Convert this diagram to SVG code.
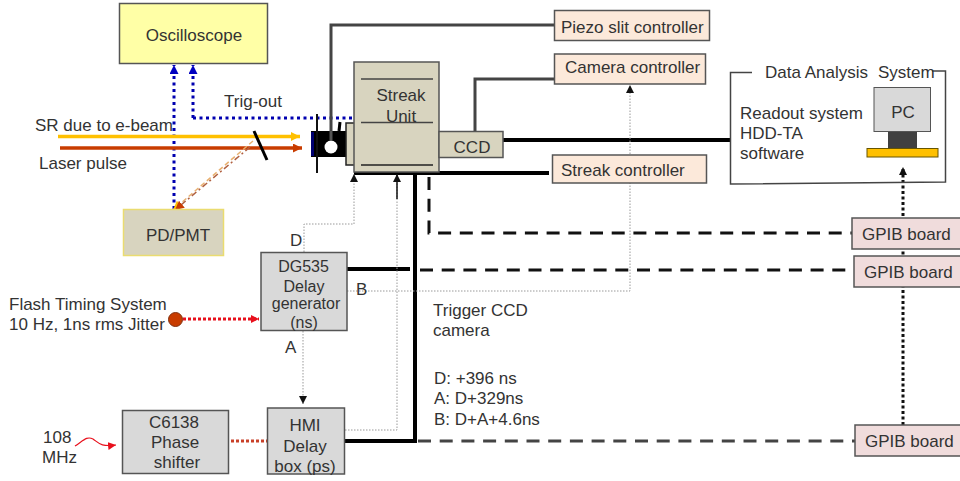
<svg xmlns="http://www.w3.org/2000/svg" width="960" height="481" viewBox="0 0 960 481">
<defs>
<marker id="blue" markerUnits="userSpaceOnUse" markerWidth="10" markerHeight="10" refX="9" refY="4.500" orient="auto"><path d="M0 0L9 4.500L0 9Z" fill="#0000c0"/></marker>
<marker id="black" markerUnits="userSpaceOnUse" markerWidth="10" markerHeight="10" refX="8" refY="4" orient="auto"><path d="M0 0L8 4L0 8Z" fill="#111"/></marker>
<marker id="red" markerUnits="userSpaceOnUse" markerWidth="10" markerHeight="10" refX="8" refY="4" orient="auto"><path d="M0 0L8 4L0 8Z" fill="#e8101c"/></marker>
<marker id="yel" markerUnits="userSpaceOnUse" markerWidth="10" markerHeight="10" refX="9" refY="4.500" orient="auto"><path d="M0 0L9 4.500L0 9Z" fill="#ffc000"/></marker>
<marker id="org" markerUnits="userSpaceOnUse" markerWidth="10" markerHeight="10" refX="9" refY="4.500" orient="auto"><path d="M0 0L9 4.500L0 9Z" fill="#c83c00"/></marker>
</defs>
<style>
text{font-family:"Liberation Sans",Arial,sans-serif;font-size:17px;fill:#333}
.m{text-anchor:middle}
.s{font-size:16px}
.box{stroke:#555;stroke-width:1.500}
.tan{fill:#d8d4bf}.gray{fill:#d9d9d9}.peach{fill:#fce9da}.pink{fill:#f0dcdc}
.thick{fill:none;stroke:#000;stroke-width:4}
.gr{fill:none;stroke:#444;stroke-width:3}
.dash{fill:none;stroke:#111;stroke-width:3;stroke-dasharray:13 8.700}
.fine{fill:none;stroke:#999;stroke-width:1;stroke-dasharray:1.500 1.500}
.blue{fill:none;stroke:#0000b0;stroke-width:3;stroke-dasharray:3 3.500}
</style>
<rect width="960" height="481" fill="#fff"/>
<g id="connectors">
<path class="blue" d="M174 209V65" marker-end="url(#blue)"/>
<path class="blue" d="M193 118V65" marker-end="url(#blue)"/>
<path class="blue" d="M193 118H354"/>
<path d="M58 136.500H300" fill="none" stroke="#ffc000" stroke-width="3.500" marker-end="url(#yel)"/>
<path d="M60 148H302" fill="none" stroke="#c83c00" stroke-width="3.500" marker-end="url(#org)"/>
<path d="M253 141L173 210" fill="none" stroke="#e8b070" stroke-width="1.500" stroke-dasharray="5 3" marker-end="url(#yel)"/>
<path d="M250 147L175 210" fill="none" stroke="#b06040" stroke-width="1.500" stroke-dasharray="6 3 2 3" marker-end="url(#org)"/>
<path d="M254 131L267 160" stroke="#000" stroke-width="3"/>
<path class="gr" d="M554 25H331V140"/>
<path class="gr" d="M554 79H475V131"/>
<path class="thick" d="M503 140H731"/>
<path class="thick" d="M354 173H549"/>
<path class="thick" d="M415 173V441H345"/>
<path class="thick" d="M347 269H410"/>
<path class="dash" d="M429 177V233H852"/>
<path class="dash" d="M420 270H854"/>
<path class="dash" style="stroke:#444" d="M418 441H855"/>
<path class="fine" d="M304 252V224H354V174" marker-end="url(#black)"/>
<path class="fine" d="M347 291H630V85" marker-end="url(#black)"/>
<path class="fine" d="M345 430H397V175"/>
<path class="fine" d="M303 331V404" marker-end="url(#black)"/>
<path d="M397 199V174" fill="none" stroke="#111" stroke-width="1.500" marker-end="url(#black)"/>
<path d="M183 319H259" fill="none" stroke="#e8101c" stroke-width="3" stroke-dasharray="3 2" marker-end="url(#red)"/>
<path d="M231 441H267" fill="none" stroke="#c84028" stroke-width="3" stroke-dasharray="3 2"/>
<path d="M75 446C84 440 87 436 93 439C99 443 100 447 116 445" fill="none" stroke="#e8101c" stroke-width="1.200" marker-end="url(#red)"/>
<path d="M903 425V167" fill="none" stroke="#111" stroke-width="3" stroke-dasharray="3 2.500" marker-end="url(#black)"/>
</g>
<g id="oscilloscope"><rect class="box" x="119.500" y="3.500" width="148" height="60" fill="#ffffa6"/><text class="m" x="194" y="41">Oscilloscope</text></g>
<g id="pdpmt"><rect x="123.500" y="209.500" width="100" height="46" class="tan" stroke="#eadc70" stroke-width="1.500"/><text class="m" x="178" y="241">PD/PMT</text></g>
<g id="slit"><rect x="311" y="131" width="35" height="26" fill="#000"/><path d="M312.500 132V156" stroke="#000070" stroke-width="3"/><path d="M317 114V173" stroke="#111" stroke-width="2"/><path d="M331 131V140" stroke="#555" stroke-width="3"/><circle cx="331" cy="147" r="6.500" fill="#fff"/><path d="M340 122L339 131" stroke="#000" stroke-width="3"/></g>
<g id="streak"><rect x="346" y="123" width="14" height="42" class="tan" stroke="#222" stroke-width="1.500"/><rect class="box tan" x="354" y="62" width="85" height="110"/><path d="M361 79H433M361 122.500H433" stroke="#444" stroke-width="1.500"/><path d="M361 165H433" stroke="#222" stroke-width="1.500"/><text class="m" x="401" y="101">Streak</text><text class="m" x="401" y="122">Unit</text></g>
<g id="ccd"><rect class="box tan" x="439" y="131.500" width="64" height="26"/><text class="m" x="472" y="153">CCD</text></g>
<g id="piezo"><rect class="box peach" x="554.500" y="10.500" width="155" height="30"/><text x="561" y="33">Piezo slit controller</text></g>
<g id="camera"><rect class="box peach" x="554.500" y="54" width="151" height="30"/><text x="565" y="73">Camera controller</text></g>
<g id="streakctl"><rect class="box peach" x="552.500" y="155" width="154" height="28"/><text x="561" y="176">Streak controller</text></g>
<g id="das"><path d="M752 72.500H730.500V184L945.500 182V71H932" fill="none" stroke="#444" stroke-width="1.500"/><text x="765" y="78">Data Analysis</text><text x="878" y="78">System</text><text x="740" y="119">Readout system</text><text x="740" y="139">HDD-TA</text><text x="740" y="159">software</text><rect class="gray" x="874" y="87.500" width="56.500" height="44" stroke="#555"/><text class="m" x="903" y="118">PC</text><rect x="888" y="132" width="29" height="16" fill="#404040"/><rect x="867" y="148.500" width="71" height="8.500" fill="#ffc000" stroke="#665500"/></g>
<g id="gpib1"><rect class="box pink" x="852" y="218" width="112" height="31"/><text x="862" y="240">GPIB board</text></g>
<g id="gpib2"><rect class="box pink" x="854" y="256" width="112" height="31"/><text x="864" y="278">GPIB board</text></g>
<g id="gpib3"><rect class="box pink" x="855" y="425" width="112" height="31"/><text x="865" y="447">GPIB board</text></g>
<g id="dg535"><rect class="box gray" x="261" y="252.500" width="86" height="78"/><text class="m s" x="303.500" y="272">DG535</text><text class="m s" x="304" y="292">Delay</text><text class="m s" x="306" y="309">generator</text><text class="m s" x="304" y="328">(ns)</text></g>
<g id="hmi"><rect class="box gray" x="267.500" y="408" width="77" height="66"/><text class="m" x="305" y="431">HMI</text><text class="m" x="305" y="452">Delay</text><text class="m" x="305" y="472">box (ps)</text></g>
<g id="c6138"><rect class="box gray" x="122.500" y="410.500" width="106" height="63"/><text class="m" x="174" y="428">C6138</text><text class="m" x="175" y="448">Phase</text><text class="m" x="177" y="468">shifter</text></g>
<g id="flash"><circle cx="175.500" cy="319.500" r="7" fill="#c83c00" stroke="#803010"/><text x="9" y="310">Flash Timing System</text><text x="9" y="330">10 Hz, 1ns rms Jitter</text></g>
<g id="labels">
<text x="35" y="131">SR due to e-beam</text>
<text x="39" y="169">Laser pulse</text>
<text x="224" y="107">Trig-out</text>
<text x="290" y="246">D</text><text x="285" y="353">A</text><text x="356" y="295">B</text>
<text x="43" y="443">108</text><text x="42" y="463">MHz</text>
<text x="433" y="316">Trigger CCD</text><text x="433" y="336">camera</text>
<text x="434" y="384">D: +396 ns</text><text x="434" y="404">A: D+329ns</text><text x="434" y="425">B: D+A+4.6ns</text>
</g>
</svg>
